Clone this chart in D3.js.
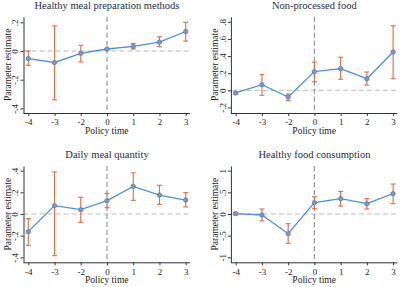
<!DOCTYPE html>
<html><head><meta charset="utf-8">
<script src="https://cdn.jsdelivr.net/npm/d3@7"></script>
<style>body{margin:0;background:#fff}svg{display:block}</style>
</head><body>
<script>
const categories = ["-4","-3","-2","0","1","2","3"];
const titles = ["Healthy meal preparation methods","Non-processed food","Daily meal quantity","Healthy food consumption"];
const est1 = [-0.053,-0.08,-0.016,0.014,0.032,0.062,0.136];
const lo1  = [-0.10,-0.34,-0.076,0.014,0.014,0.03,0.069];
const hi1  = [0.0,0.175,0.04,0.014,0.053,0.099,0.2];
const est2 = [-0.031,0.066,-0.078,0.218,0.253,0.136,0.448];
const lo2  = [-0.045,-0.058,-0.121,0.10,0.129,0.062,0.136];
const hi2  = [-0.017,0.183,-0.043,0.33,0.386,0.214,0.754];
const est3 = [-0.163,0.077,0.04,0.123,0.255,0.175,0.129];
const lo3  = [-0.289,-0.385,-0.077,0.058,0.126,0.089,0.065];
const hi3  = [-0.043,0.388,0.154,0.19,0.38,0.265,0.197];
const est4 = [0.008,-0.023,-0.454,0.262,0.354,0.238,0.469];
const lo4  = [-0.02,-0.16,-0.677,0.123,0.185,0.115,0.238];
const hi4  = [0.035,0.115,-0.223,0.4,0.523,0.354,0.692];
const yTicks1 = [-0.4,-0.2,0,0.2];
const yTicks2 = [-0.2,0,0.2,0.4,0.6,0.8];
const yTicks3 = [-0.4,-0.2,0,0.2,0.4];
const yTicks4 = [-1,-0.5,0,0.5,1];
const xTitle = "Policy time", yTitle = "Parameter estimate";

const fmt = v => { if (v===0) return "0"; let s = String(Math.abs(v)).replace(/^0\./,"."); return (v<0?"-":"")+s; };

const panels = [
  {title:titles[0], est:est1, lo:lo1, hi:hi1, ticks:yTicks1, ox:0,   oy:0,   dom:[-0.432,0.239]},
  {title:titles[1], est:est2, lo:lo2, hi:hi2, ticks:yTicks2, ox:207.4, oy:0, dom:[-0.265,0.86]},
  {title:titles[2], est:est3, lo:lo3, hi:hi3, ticks:yTicks3, ox:0,   oy:149.3, dom:[-0.446,0.443]},
  {title:titles[3], est:est4, lo:lo4, hi:hi4, ticks:yTicks4, ox:207.4, oy:149.3, dom:[-1.115,1.108]}
];

const svg = d3.select("body").append("svg").attr("width",400).attr("height",287);
const serif = "'Liberation Serif','Times New Roman',serif";

panels.forEach(p => {
  const g = svg.append("g").attr("transform",`translate(${p.ox},${p.oy})`);
  const axX = 23.5, top = 16.7, bottom = 113, right = 190;
  const x = d3.scalePoint().domain(categories).range([28.3,185.7]);
  const y = d3.scaleLinear().domain(p.dom).range([bottom, top]);

  // reference lines
  g.append("line").attr("x1",axX).attr("x2",right).attr("y1",y(0)).attr("y2",y(0))
    .attr("stroke","#bbbbbb").attr("stroke-width",1).attr("stroke-dasharray","5,3");
  g.append("line").attr("x1",x("0")).attr("x2",x("0")).attr("y1",top).attr("y2",bottom)
    .attr("stroke","#999999").attr("stroke-width",1.2).attr("stroke-dasharray","5,3");

  // axes
  const ya = g.append("g").attr("transform",`translate(${axX},0)`)
    .call(d3.axisLeft(y).tickValues(p.ticks).tickFormat(fmt).tickSize(3).tickSizeOuter(0));
  ya.select(".domain").attr("stroke","#333");
  ya.selectAll(".tick line").attr("stroke","#333");
  ya.selectAll(".tick text").attr("font-family",serif).attr("font-size",9).attr("fill","#222")
    .attr("text-anchor","middle").attr("x",0).attr("dy",0)
    .attr("transform","translate(-5.3,0) rotate(-90)");
  const xa = g.append("g").attr("transform",`translate(0,${bottom})`)
    .call(d3.axisBottom(x).tickSize(3).tickSizeOuter(0));
  xa.select(".domain").attr("d",`M${axX},0.5H${right}`).attr("stroke","#333");
  xa.selectAll(".tick line").attr("stroke","#333");
  xa.selectAll(".tick text").attr("font-family",serif).attr("font-size",9).attr("fill","#222").attr("y",6);

  // titles
  g.append("text").attr("x",107).attr("y",9).attr("text-anchor","middle")
    .attr("font-family",serif).attr("font-size",10.5).attr("fill","#1e2a48").text(p.title);
  g.append("text").attr("x",(axX+right)/2).attr("y",134).attr("text-anchor","middle")
    .attr("font-family",serif).attr("font-size",9.5).attr("fill","#222").text(xTitle);
  g.append("text").attr("transform",`translate(${axX-13},${(top+bottom)/2}) rotate(-90)`).attr("text-anchor","middle")
    .attr("font-family",serif).attr("font-size",9.5).attr("fill","#222").text(yTitle);

  const data = categories.map((c,i)=>({c, e:p.est[i], l:p.lo[i], h:p.hi[i]}));
  // error bars
  const eb = g.append("g").attr("stroke","#e8693f").attr("stroke-width",1.1);
  data.forEach(d => {
    eb.append("line").attr("x1",x(d.c)).attr("x2",x(d.c)).attr("y1",y(d.l)).attr("y2",y(d.h));
    eb.append("line").attr("x1",x(d.c)-2.5).attr("x2",x(d.c)+2.5).attr("y1",y(d.l)).attr("y2",y(d.l));
    eb.append("line").attr("x1",x(d.c)-2.5).attr("x2",x(d.c)+2.5).attr("y1",y(d.h)).attr("y2",y(d.h));
  });
  // line
  g.append("path").datum(data).attr("fill","none").attr("stroke","#4a90e2").attr("stroke-width",1.3)
    .attr("d", d3.line().x(d=>x(d.c)).y(d=>y(d.e)));
  g.selectAll("circle.pt").data(data).enter().append("circle")
    .attr("cx",d=>x(d.c)).attr("cy",d=>y(d.e)).attr("r",2.2)
    .attr("fill","#8a93b8").attr("stroke","#4a7fd0").attr("stroke-width",0.8);
});
</script>
</body></html>
